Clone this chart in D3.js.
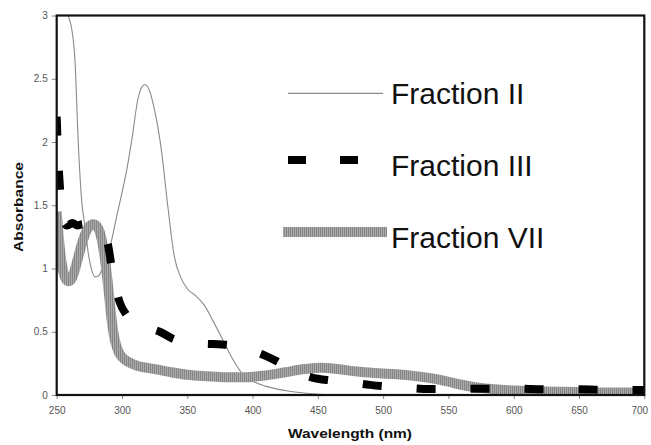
<!DOCTYPE html>
<html><head><meta charset="utf-8">
<script src="https://cdn.jsdelivr.net/npm/d3@7"></script>
<style>
html,body{margin:0;padding:0;background:#fff;}
svg{display:block;font-family:"Liberation Sans",Arial,sans-serif;}
</style></head>
<body><svg id="c" width="651" height="445"></svg>
<script>
// ---- data ----
const seriesNames = ["Fraction II", "Fraction III", "Fraction VII"];
const xTicks = [250, 300, 350, 400, 450, 500, 550, 600, 650, 700];
const yTicks = [0, 0.5, 1, 1.5, 2, 2.5, 3];
const yTickLabels = ["0", "0.5", "1", "1.5", "2", "2.5", "3"];

const wl2  = [250, 255, 258.9, 261.5, 264, 266.5, 269.1, 271.7, 274.2, 276.8, 279.3, 282, 284.5, 287.5, 290.8, 295.9, 300, 304, 308, 312, 315, 317.6, 320, 325, 330, 335, 340, 345, 350, 357, 363, 370, 378, 385, 392, 400, 410, 425, 445, 470, 550, 700];
const abs2 = [3.6, 3.3, 3.0, 2.895, 2.645, 2.0, 1.54, 1.33, 1.12, 0.987, 0.934, 0.94, 0.987, 1.06, 1.17, 1.41, 1.6, 1.8, 2.05, 2.33, 2.43, 2.455, 2.43, 2.25, 1.95, 1.5, 1.1, 0.93, 0.84, 0.78, 0.71, 0.58, 0.42, 0.28, 0.17, 0.11, 0.07, 0.035, 0.01, 0, 0, 0];

const wl3  = [250, 251, 252, 253.5, 255, 258, 262, 266, 270, 275, 280, 285, 289, 292, 295, 298, 303, 310, 318, 329, 340, 350, 362, 377, 390, 400, 410, 418, 430, 445, 460, 475, 490, 505, 520, 535, 555, 575, 600, 625, 650, 675, 700];
const abs3 = [2.2, 1.9, 1.72, 1.5, 1.38, 1.34, 1.36, 1.34, 1.35, 1.34, 1.32, 1.28, 1.2, 1.02, 0.86, 0.74, 0.64, 0.58, 0.54, 0.5, 0.44, 0.415, 0.405, 0.4, 0.38, 0.35, 0.31, 0.27, 0.2, 0.14, 0.115, 0.1, 0.08, 0.065, 0.055, 0.047, 0.05, 0.05, 0.05, 0.045, 0.045, 0.04, 0.04];

const wl7  = [250, 252, 254, 256, 259, 262, 266, 270, 274, 278, 281, 284, 287, 290, 292, 294, 297, 300, 305, 312, 322, 335, 350, 365, 380, 395, 410, 425, 440, 452, 465, 480, 500, 520, 535, 548, 558, 570, 585, 610, 640, 670, 700];
const abs7 = [1.45, 1.2, 1.03, 0.94, 0.9, 0.93, 1.07, 1.22, 1.32, 1.35, 1.33, 1.25, 1.07, 0.8, 0.6, 0.46, 0.35, 0.3, 0.26, 0.23, 0.21, 0.185, 0.16, 0.148, 0.14, 0.14, 0.155, 0.18, 0.205, 0.215, 0.205, 0.185, 0.17, 0.155, 0.135, 0.11, 0.085, 0.062, 0.045, 0.032, 0.025, 0.02, 0.02];

// ---- layout ----
const svg = d3.select("#c");
const L = 56.7, R = 644.3, T = 15.5, B = 395;
const x = d3.scaleLinear().domain([250, 700]).range([L, R]);
const y = d3.scaleLinear().domain([0, 3]).range([B, T]);

const defs = svg.append("defs");
defs.append("clipPath").attr("id", "clip").append("rect")
  .attr("x", L).attr("y", T).attr("width", R - L).attr("height", B - T);
const pat = defs.append("pattern").attr("id", "hatch").attr("patternUnits", "userSpaceOnUse")
  .attr("width", 2).attr("height", 4);
pat.append("rect").attr("width", 2).attr("height", 4).attr("fill", "#ababab");
pat.append("rect").attr("width", 1).attr("height", 4).attr("fill", "#858585");

// axes
const yAxis = d3.axisLeft(y).tickValues(yTicks).tickFormat((d, i) => yTickLabels[i]).tickSize(5).tickPadding(4);
const gy = svg.append("g").attr("transform", `translate(${L},0)`).call(yAxis);
const xAxis = d3.axisBottom(x).tickValues(xTicks).tickFormat(d3.format("d")).tickSize(4).tickPadding(8);
const gx = svg.append("g").attr("transform", `translate(0,${B})`).call(xAxis);
[gx, gy].forEach(g => {
  g.select(".domain").remove();
  g.selectAll(".tick line").attr("stroke", "#888");
  g.selectAll(".tick text").attr("fill", "#555").attr("font-size", 10)
    .attr("font-family", "Liberation Sans, Arial, sans-serif");
});
// keep the last x label inside the page
gx.selectAll(".tick text").filter(d => d === 700).attr("dx", -5);

// lines
const line = d3.line().x(d => x(d[0])).y(d => y(d[1])).curve(d3.curveMonotoneX);
const plot = svg.append("g").attr("clip-path", "url(#clip)");
const d2 = wl2.map((w, i) => [w, abs2[i]]);
const d3s = wl3.map((w, i) => [w, abs3[i]]);
const d7 = wl7.map((w, i) => [w, abs7[i]]);

plot.append("path").datum(d2).attr("d", line).attr("fill", "none")
  .attr("stroke", "#8a8a8a").attr("stroke-width", 1.1);
plot.append("path").datum(d7).attr("d", line).attr("fill", "none")
  .attr("stroke", "url(#hatch)").attr("stroke-width", 10).attr("stroke-linejoin", "round");
plot.append("path").datum(d3s).attr("d", line).attr("fill", "none")
  .attr("stroke", "#000").attr("stroke-width", 8).attr("stroke-dasharray", "19,35")
  .attr("stroke-dashoffset", 0);

// frame
svg.append("rect").attr("x", L).attr("y", T).attr("width", R - L).attr("height", B - T)
  .attr("fill", "none").attr("stroke", "#111").attr("stroke-width", 2.2);

// axis titles
svg.append("text").attr("x", 350).attr("y", 438).attr("text-anchor", "middle")
  .attr("font-weight", "bold").attr("font-size", 13).attr("fill", "#111")
  .attr("textLength", 124).attr("lengthAdjust", "spacingAndGlyphs")
  .text("Wavelength (nm)");
svg.append("text").attr("transform", "translate(23,207) rotate(-90)").attr("text-anchor", "middle")
  .attr("font-weight", "bold").attr("font-size", 13).attr("fill", "#111")
  .attr("textLength", 90).attr("lengthAdjust", "spacingAndGlyphs")
  .text("Absorbance");

// legend
const legY = [93.3, 160, 232];
const legBase = [103.5, 175.5, 247.5];
const lg = svg.append("g");
lg.append("line").attr("x1", 288).attr("x2", 383).attr("y1", legY[0]).attr("y2", legY[0])
  .attr("stroke", "#8a8a8a").attr("stroke-width", 1.3);
lg.append("line").attr("x1", 288).attr("x2", 359).attr("y1", legY[1]).attr("y2", legY[1])
  .attr("stroke", "#000").attr("stroke-width", 8).attr("stroke-dasharray", "18,34");
lg.append("line").attr("x1", 283).attr("x2", 387).attr("y1", legY[2]).attr("y2", legY[2])
  .attr("stroke", "url(#hatch)").attr("stroke-width", 10);
seriesNames.forEach((n, i) => {
  lg.append("text").attr("x", 391).attr("y", legBase[i]).attr("font-size", 30)
    .attr("fill", "#111").text(n);
});
</script></body></html>
